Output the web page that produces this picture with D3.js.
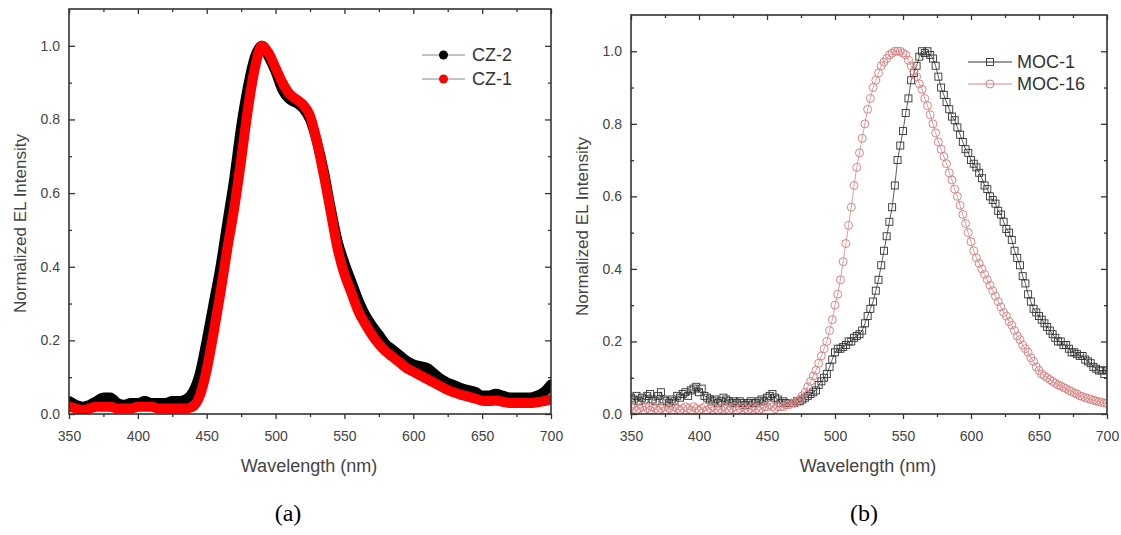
<!DOCTYPE html>
<html>
<head>
<meta charset="utf-8">
<script src="https://cdn.jsdelivr.net/npm/d3@7"></script>
<style>
  body { margin: 0; background: #fff; }
  svg { display: block; font-family: Arial, "Liberation Sans", sans-serif; }
</style>
</head>
<body>
<svg id="chart"></svg>
<script>
const width = 1121;
const height = 535;

// wavelength grids (nm)
const czWave = d3.range(350, 701, 5);
const mocWave = d3.range(350, 701, 2);

// panel (a) : CZ-2 (black) and CZ-1 (red)
const cz2 = [
  0.035, 0.025, 0.02, 0.025, 0.035, 0.045, 0.045, 0.03, 0.025, 0.03,
  0.03, 0.035, 0.03, 0.03, 0.03, 0.035, 0.035, 0.04, 0.06, 0.11,
  0.2, 0.3, 0.4, 0.52, 0.64, 0.78, 0.89, 0.97, 1.0, 0.97,
  0.93, 0.88, 0.855, 0.845, 0.83, 0.80, 0.74, 0.66, 0.56, 0.47,
  0.41, 0.36, 0.31, 0.27, 0.24, 0.215, 0.19, 0.175, 0.16, 0.145,
  0.135, 0.13, 0.125, 0.11, 0.095, 0.085, 0.078, 0.07, 0.065, 0.06,
  0.05, 0.05, 0.055, 0.05, 0.045, 0.045, 0.045, 0.045, 0.05, 0.06,
  0.08
];
const cz1 = [
  0.02, 0.015, 0.01, 0.015, 0.02, 0.02, 0.02, 0.015, 0.015, 0.015,
  0.02, 0.02, 0.02, 0.015, 0.015, 0.015, 0.015, 0.015, 0.02, 0.05,
  0.12, 0.22, 0.33, 0.45, 0.56, 0.69, 0.83, 0.94, 1.0, 0.98,
  0.94, 0.90, 0.87, 0.855, 0.84, 0.81, 0.74, 0.65, 0.55, 0.45,
  0.38, 0.33, 0.28, 0.245, 0.215, 0.19, 0.17, 0.155, 0.14, 0.125,
  0.115, 0.105, 0.095, 0.085, 0.075, 0.065, 0.058, 0.052, 0.047, 0.042,
  0.036, 0.035, 0.037, 0.033, 0.03, 0.03, 0.03, 0.03, 0.032, 0.035,
  0.04
];

// panel (b) : MOC-1 (squares) and MOC-16 (circles)
const moc1 = [
  0.045, 0.04, 0.05, 0.035, 0.045, 0.04, 0.05, 0.055, 0.04, 0.035,
  0.05, 0.06, 0.04, 0.035, 0.03, 0.04, 0.035, 0.05, 0.045, 0.055,
  0.06, 0.05, 0.065, 0.07, 0.075, 0.06, 0.07, 0.05, 0.045, 0.04,
  0.035, 0.04, 0.03, 0.035, 0.045, 0.04, 0.035, 0.03, 0.035, 0.03,
  0.035, 0.03, 0.025, 0.03, 0.035, 0.03, 0.03, 0.035, 0.04, 0.035,
  0.045, 0.05, 0.055, 0.045, 0.04, 0.03, 0.035, 0.03, 0.03, 0.03,
  0.03, 0.035, 0.035, 0.04, 0.045, 0.05, 0.055, 0.06, 0.065, 0.08,
  0.09, 0.1, 0.11, 0.13, 0.15, 0.17, 0.18, 0.18, 0.185, 0.19,
  0.2, 0.2, 0.21, 0.215, 0.22, 0.23, 0.25, 0.27, 0.29, 0.31,
  0.34, 0.37, 0.41, 0.45, 0.49, 0.53, 0.57, 0.63, 0.7, 0.74,
  0.78, 0.83, 0.87, 0.92, 0.94, 0.96, 0.985, 1.0, 0.995, 1.0,
  0.99, 0.98, 0.96, 0.93, 0.9, 0.88, 0.86, 0.84, 0.82, 0.81,
  0.79, 0.77, 0.75, 0.73, 0.72, 0.70, 0.69, 0.68, 0.665, 0.65,
  0.63, 0.62, 0.6, 0.59, 0.58, 0.56, 0.55, 0.53, 0.51, 0.5,
  0.48, 0.45, 0.43, 0.41, 0.38, 0.36, 0.33, 0.31, 0.29, 0.28,
  0.27, 0.26, 0.25, 0.24, 0.23, 0.22, 0.21, 0.2, 0.2, 0.19,
  0.19, 0.18, 0.17, 0.17, 0.165, 0.16, 0.16, 0.15, 0.145, 0.14,
  0.13, 0.125, 0.12, 0.12, 0.11, 0.12
];
const moc16 = [
  0.02, 0.015, 0.01, 0.015, 0.02, 0.01, 0.015, 0.01, 0.02, 0.015,
  0.01, 0.015, 0.02, 0.01, 0.015, 0.01, 0.02, 0.015, 0.01, 0.015,
  0.02, 0.015, 0.01, 0.02, 0.015, 0.01, 0.015, 0.02, 0.01, 0.015,
  0.02, 0.015, 0.01, 0.015, 0.02, 0.015, 0.01, 0.015, 0.02, 0.01,
  0.015, 0.02, 0.015, 0.01, 0.015, 0.02, 0.015, 0.01, 0.015, 0.02,
  0.02, 0.025, 0.02, 0.015, 0.02, 0.02, 0.02, 0.025, 0.025, 0.03,
  0.03, 0.035, 0.04, 0.05, 0.06, 0.075, 0.09, 0.105, 0.12, 0.14,
  0.16, 0.18, 0.2, 0.23, 0.26, 0.3, 0.33, 0.37, 0.42, 0.47,
  0.52, 0.57, 0.63, 0.68, 0.72, 0.76, 0.8, 0.84, 0.87, 0.9,
  0.92, 0.94, 0.96, 0.97, 0.98, 0.99, 0.995, 1.0, 1.0, 1.0,
  0.995, 0.99, 0.975, 0.96, 0.945, 0.93, 0.91, 0.895, 0.87, 0.85,
  0.825, 0.8, 0.775, 0.75, 0.73, 0.71, 0.69, 0.665, 0.645, 0.62,
  0.6, 0.575, 0.55, 0.525, 0.5, 0.475, 0.45, 0.43, 0.415, 0.4,
  0.385, 0.37, 0.355, 0.34, 0.325, 0.31, 0.295, 0.28, 0.27, 0.255,
  0.245, 0.23, 0.215, 0.205, 0.19, 0.18, 0.17, 0.155, 0.145, 0.13,
  0.12, 0.11, 0.105, 0.1, 0.095, 0.09, 0.085, 0.08, 0.077, 0.073,
  0.07, 0.065, 0.062, 0.058, 0.055, 0.05, 0.048, 0.045, 0.043, 0.04,
  0.038, 0.036, 0.034, 0.032, 0.03, 0.03
];

// ticks
const xTicks = [350, 400, 450, 500, 550, 600, 650, 700];
const xMinor = [375, 425, 475, 525, 575, 625, 675];
const yTicks = [0.0, 0.2, 0.4, 0.6, 0.8, 1.0];
const yMinor = [0.1, 0.3, 0.5, 0.7, 0.9];

const svg = d3.select("#chart").attr("width", width).attr("height", height);

// panel frames
const panels = [
  {
    id: "a", left: 69, right: 551, top: 9, bottom: 414,
    tag: "(a)", tagX: 288,
    legend: { x1: 422, x2: 465, textX: 472, y: 55, gap: 24 },
    series: [
      { name: "CZ-2", wave: czWave, values: cz2, color: "#000", kind: "thick" },
      { name: "CZ-1", wave: czWave, values: cz1, color: "#f00", kind: "thick" }
    ]
  },
  {
    id: "b", left: 631, right: 1107, top: 15, bottom: 414,
    tag: "(b)", tagX: 864,
    legend: { x1: 968, x2: 1012, textX: 1017, y: 62, gap: 22 },
    series: [
      { name: "MOC-1", wave: mocWave, values: moc1, color: "#333", kind: "square" },
      { name: "MOC-16", wave: mocWave, values: moc16, color: "#d98585", kind: "circle" }
    ]
  }
];

panels.forEach(drawPanel);

function drawPanel(p) {
  const x = d3.scaleLinear().domain([350, 700]).range([p.left, p.right]);
  const y = d3.scaleLinear().domain([0, 1.1]).range([p.bottom, p.top]);
  const g = svg.append("g");

  g.append("clipPath").attr("id", "clip-" + p.id)
    .append("rect")
    .attr("x", p.left).attr("y", p.top)
    .attr("width", p.right - p.left).attr("height", p.bottom - p.top);

  const plot = g.append("g").attr("clip-path", `url(#clip-${p.id})`);
  const line = d3.line().x(d => x(d[0])).y(d => y(d[1]));
  const smooth = d3.line().x(d => x(d[0])).y(d => y(d[1])).curve(d3.curveMonotoneX);

  p.series.forEach(s => {
    const pts = s.wave.map((w, i) => [w, s.values[i]]);
    if (s.kind === "thick") {
      plot.append("path").datum(pts)
        .attr("d", smooth)
        .attr("fill", "none")
        .attr("stroke", s.color)
        .attr("stroke-width", 10)
        .attr("stroke-linejoin", "round")
        .attr("stroke-linecap", "round");
    } else {
      plot.append("path").datum(pts)
        .attr("d", line)
        .attr("fill", "none")
        .attr("stroke", s.color)
        .attr("stroke-width", 0.8);
      drawMarkers(plot, pts.map(d => [x(d[0]), y(d[1])]), s);
    }
  });

  // axes
  const axisStyle = sel => {
    sel.select(".domain").remove();
    sel.selectAll(".tick line").attr("stroke", "#333").attr("stroke-width", 1.3);
    sel.selectAll(".tick text").attr("fill", "#444").attr("font-size", 14);
  };

  g.append("g").attr("transform", `translate(0,${p.bottom})`)
    .call(d3.axisBottom(x).tickValues(xTicks).tickSize(5).tickPadding(12).tickFormat(d3.format("d")))
    .call(axisStyle);
  g.append("g").attr("transform", `translate(0,${p.bottom})`)
    .call(d3.axisBottom(x).tickValues(xMinor).tickSize(3).tickFormat(""))
    .call(axisStyle);
  g.append("g").attr("transform", `translate(0,${p.top})`)
    .call(d3.axisTop(x).tickValues(xTicks).tickSize(-5).tickFormat(""))
    .call(axisStyle);
  g.append("g").attr("transform", `translate(0,${p.top})`)
    .call(d3.axisTop(x).tickValues(xMinor).tickSize(-3).tickFormat(""))
    .call(axisStyle);

  g.append("g").attr("transform", `translate(${p.left},0)`)
    .call(d3.axisLeft(y).tickValues(yTicks).tickSize(-6).tickPadding(9).tickFormat(d3.format(".1f")))
    .call(axisStyle);
  g.append("g").attr("transform", `translate(${p.left},0)`)
    .call(d3.axisLeft(y).tickValues(yMinor).tickSize(-3).tickFormat(""))
    .call(axisStyle);
  g.append("g").attr("transform", `translate(${p.right},0)`)
    .call(d3.axisRight(y).tickValues(yTicks).tickSize(-6).tickFormat(""))
    .call(axisStyle);
  g.append("g").attr("transform", `translate(${p.right},0)`)
    .call(d3.axisRight(y).tickValues(yMinor).tickSize(-3).tickFormat(""))
    .call(axisStyle);

  // frame
  g.append("rect")
    .attr("x", p.left).attr("y", p.top)
    .attr("width", p.right - p.left).attr("height", p.bottom - p.top)
    .attr("fill", "none").attr("stroke", "#333").attr("stroke-width", 1.6);

  // axis titles
  g.append("text")
    .attr("x", (p.left + p.right) / 2 - 1).attr("y", 472)
    .attr("text-anchor", "middle").attr("font-size", 18).attr("fill", "#444")
    .text("Wavelength (nm)");
  g.append("text")
    .attr("transform", `translate(${p.left - 43},${(p.top + p.bottom) / 2 + 12}) rotate(-90)`)
    .attr("text-anchor", "middle").attr("font-size", 17).attr("fill", "#444")
    .text("Normalized EL Intensity");

  // legend
  const L = p.legend;
  p.series.forEach((s, i) => {
    const ly = L.y + i * L.gap;
    g.append("line")
      .attr("x1", L.x1).attr("x2", L.x2).attr("y1", ly).attr("y2", ly)
      .attr("stroke", s.kind === "thick" ? "#888" : s.color).attr("stroke-width", 1);
    const mx = (L.x1 + L.x2) / 2;
    if (s.kind === "thick") {
      g.append("circle").attr("cx", mx).attr("cy", ly).attr("r", 4.5).attr("fill", s.color);
    } else {
      drawMarkers(g, [[mx, ly]], s);
    }
    g.append("text")
      .attr("x", L.textX).attr("y", ly + 6)
      .attr("font-size", 18).attr("fill", "#333")
      .text(s.name);
  });

  // panel tag
  svg.append("text")
    .attr("x", p.tagX).attr("y", 521)
    .attr("text-anchor", "middle")
    .attr("font-family", "'Liberation Serif', 'Times New Roman', serif")
    .attr("font-size", 24).attr("fill", "#000")
    .text(p.tag);
}

function drawMarkers(parent, pts, s) {
  if (s.kind === "square") {
    parent.append("g").selectAll("rect").data(pts).join("rect")
      .attr("x", d => d[0] - 3.5).attr("y", d => d[1] - 3.5)
      .attr("width", 7).attr("height", 7)
      .attr("fill", "none")
      .attr("stroke", s.color).attr("stroke-width", 0.9);
  } else {
    parent.append("g").selectAll("circle").data(pts).join("circle")
      .attr("cx", d => d[0]).attr("cy", d => d[1]).attr("r", 4)
      .attr("fill", "none")
      .attr("stroke", s.color).attr("stroke-width", 1);
  }
}
</script>
</body>
</html>
